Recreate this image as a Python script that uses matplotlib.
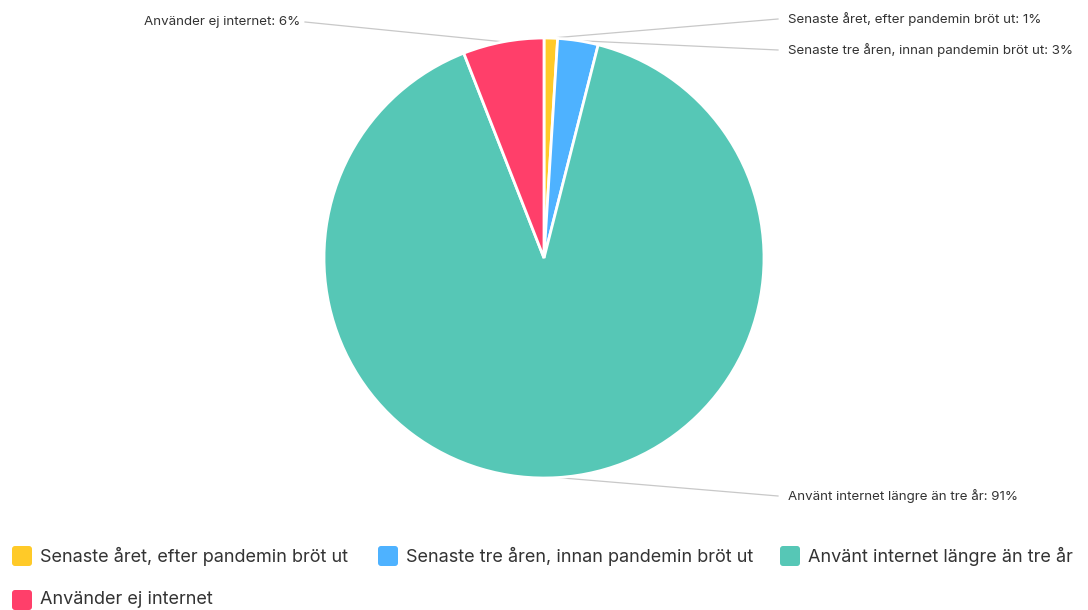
import numpy as np
import matplotlib
matplotlib.use("Agg")
import matplotlib.pyplot as plt
from matplotlib.patches import FancyBboxPatch

# data
categories = [
    "Senaste året, efter pandemin bröt ut",
    "Senaste tre åren, innan pandemin bröt ut",
    "Använt internet längre än tre år",
    "Använder ej internet",
]
percent = [1, 3, 91, 6]
colors = ["#FFCA28", "#4EB2FF", "#56C7B6", "#FF3F6A"]

W, H = 1088, 610
plt.rcParams["font.family"] = ["Inter", "DejaVu Sans"]

fig = plt.figure(figsize=(W / 100, H / 100), dpi=100)
ax = fig.add_axes([0, 0, 1, 1])

cx, cy, r = 544, H - 258, 220
wedges, _ = ax.pie(percent, colors=colors, startangle=90, counterclock=False,
                   center=(cx, cy), radius=r, frame=True,
                   wedgeprops=dict(edgecolor="white", linewidth=2))
ax.set_xlim(0, W)
ax.set_ylim(0, H)
ax.set_aspect("equal")
ax.axis("off")

# outside labels with leader lines (text anchor in pixel coords, y from top)
label_pos = [(788, 19, "left"), (788, 50, "left"), (788, 496, "left"), (300, 22, "right")]
for w, cat, p, (tx, ty, ha) in zip(wedges, categories, percent, label_pos):
    mid = np.deg2rad((w.theta1 + w.theta2) / 2)
    sx, sy = cx + r * np.cos(mid), cy + r * np.sin(mid)
    ex = tx - 10 if ha == "left" else tx + 5
    ax.plot([sx, ex], [sy, H - ty], color="#c8c8c8", lw=0.9, zorder=0)
    ax.text(tx, H - ty, f"{cat}: {p}%", ha=ha, va="center", fontsize=9.6, color="#333333")

# legend
leg_pos = [(12, 556), (378, 556), (780, 556), (12, 600)]
for (lx, ly), cat, c in zip(leg_pos, categories, colors):
    ax.add_patch(FancyBboxPatch((lx, H - ly - 10), 20, 20,
                                boxstyle="round,pad=0,rounding_size=3",
                                facecolor=c, edgecolor="none"))
    ax.text(lx + 28, H - ly, cat, ha="left", va="center", fontsize=13, color="#333333")

fig.savefig("out.png", dpi=100)
